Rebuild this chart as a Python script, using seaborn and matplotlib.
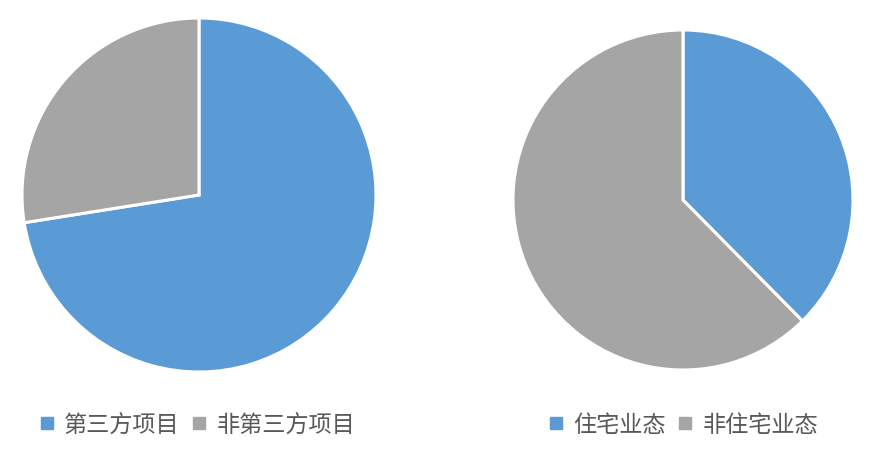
import seaborn as sns
import matplotlib.pyplot as plt
from matplotlib.lines import Line2D

sns.set_theme(style="white")
plt.rcParams['font.family'] = ['Noto Sans CJK SC', 'DejaVu Sans']

# left pie: project source
left_labels = ["第三方项目", "非第三方项目"]
left_values = [72.5, 27.5]
# right pie: property type
right_labels = ["住宅业态", "非住宅业态"]
right_values = [37.6, 62.4]

colors = ["#5B9BD5", "#A5A5A5"]
text_color = "#595959"


def draw_pie(fig, rect, values, labels, legend_anchor):
    ax = fig.add_axes(rect)
    ax.pie(values, colors=colors, startangle=90, counterclock=False,
           wedgeprops=dict(edgecolor="white", linewidth=2.2))
    ax.set_xlim(-1.0, 1.0)
    ax.set_ylim(-1.0, 1.0)
    ax.set_aspect("equal")
    ax.axis("off")
    handles = [Line2D([], [], marker="s", linestyle="none", markersize=8,
                      color=c) for c in colors]
    fig.legend(handles, labels, loc="center left", bbox_to_anchor=legend_anchor,
               ncol=2, frameon=False, fontsize=16.7, handlelength=0.7,
               handletextpad=0.4, columnspacing=0.5, borderpad=0,
               labelcolor=text_color)
    return ax


def main():
    fig = plt.figure(figsize=(8.73, 4.58), dpi=100)
    fig.patch.set_facecolor("white")
    draw_pie(fig, [22 / 873, 1 - 372 / 458, 354 / 873, 354 / 458],
             left_values, left_labels, (27 / 873, 1 - 425 / 458))
    draw_pie(fig, [513 / 873, 1 - 370 / 458, 340 / 873, 340 / 458],
             right_values, right_labels, (536 / 873, 1 - 425 / 458))
    fig.savefig("out.png", dpi=100, facecolor="white")


if __name__ == "__main__":
    main()
